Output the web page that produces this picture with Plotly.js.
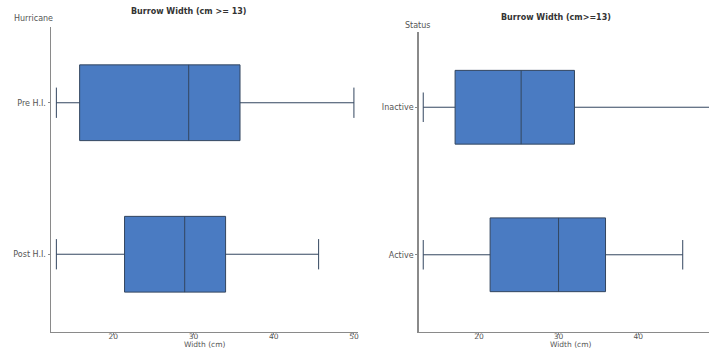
<!DOCTYPE html>
<html><head><meta charset="utf-8">
<script src="https://cdn.plot.ly/plotly-3.0.1.min.js"></script>
<style>html,body{margin:0;padding:0;background:#fff}</style>
</head><body><div id="chart" style="width:709px;height:350px"></div>
<script>
// Left panel: Hurricane
const hurricaneCats = ['Pre H.I.', 'Post H.I.'];
const hurMin = [12.9, 12.9];
const hurQ1 = [15.8, 21.4];
const hurMedian = [29.4, 28.9];
const hurQ3 = [35.8, 34.0];
const hurMax = [50.0, 45.6];
// Right panel: Status
const statusCats = ['Inactive', 'Active'];
const stMin = [13.0, 13.0];
const stQ1 = [17.0, 21.4];
const stMedian = [25.3, 30.0];
const stQ3 = [32.0, 35.9];
const stMax = [52.0, 45.6];
const leftTicks = [20, 30, 40, 50];
const rightTicks = [20, 30, 40];

const fill = '#4a7bc2';
const lineCol = '#33465f';
const font = {family: 'DejaVu Sans, sans-serif', size: 8, color: '#555'};
const smallFont = {family: 'DejaVu Sans, sans-serif', size: 7.5, color: '#555'};

const traces = [
  {type: 'box', orientation: 'h', y: hurricaneCats, q1: hurQ1, median: hurMedian, q3: hurQ3,
   lowerfence: hurMin, upperfence: hurMax, fillcolor: fill, line: {color: lineCol, width: 1},
   whiskerwidth: 0.4, xaxis: 'x', yaxis: 'y', hoverinfo: 'skip', showlegend: false},
  {type: 'box', orientation: 'h', y: statusCats, q1: stQ1, median: stMedian, q3: stQ3,
   lowerfence: stMin, upperfence: stMax, fillcolor: fill, line: {color: lineCol, width: 1},
   whiskerwidth: 0.4, xaxis: 'x2', yaxis: 'y2', hoverinfo: 'skip', showlegend: false}
];

const axCommon = {showgrid: false, zeroline: false, showline: true, linecolor: '#8a8a8a', linewidth: 1.5,
  ticks: 'outside', ticklen: 2, tickcolor: '#8a8a8a', tickfont: font, fixedrange: true};

const layout = {
  width: 709, height: 350,
  margin: {l: 0, r: 0, t: 0, b: 0},
  paper_bgcolor: '#fff', plot_bgcolor: '#fff',
  boxgap: 0.5, boxgroupgap: 0,
  font: font,
  xaxis: Object.assign({}, axCommon, {domain: [51/709, 358/709], range: [12.23, 50.51], anchor: 'y',
    tickvals: leftTicks, ticklabelstandoff: -5, tickfont: smallFont}),
  yaxis: Object.assign({}, axCommon, {domain: [18.5/350, 323/350], anchor: 'x', type: 'category',
    categoryorder: 'array', categoryarray: hurricaneCats.slice().reverse(), range: [-0.51, 1.5]}),
  xaxis2: Object.assign({}, axCommon, {domain: [418.7/709, 1], range: [12.43, 48.9], anchor: 'y2',
    tickvals: rightTicks, ticklabelstandoff: -5, tickfont: smallFont}),
  yaxis2: Object.assign({}, axCommon, {domain: [18.5/350, 318/350], anchor: 'x2', type: 'category',
    categoryorder: 'array', categoryarray: statusCats.slice().reverse(), range: [-0.52, 1.51]}),
  annotations: [
    {text: '<b>Burrow Width (cm >= 13)</b>', xref: 'paper', yref: 'paper', x: 189/709, y: 1 - 11/350,
     showarrow: false, xanchor: 'center', yanchor: 'middle', font: {family: 'DejaVu Sans, sans-serif', size: 8, color: '#333'}},
    {text: '<b>Burrow Width (cm>=13)</b>', xref: 'paper', yref: 'paper', x: 556/709, y: 1 - 17.5/350,
     showarrow: false, xanchor: 'center', yanchor: 'middle', font: {family: 'DejaVu Sans, sans-serif', size: 8, color: '#333'}},
    {text: 'Hurricane', xref: 'paper', yref: 'paper', x: 33/709, y: 1 - 19/350,
     showarrow: false, xanchor: 'center', yanchor: 'middle', font: font},
    {text: 'Status', xref: 'paper', yref: 'paper', x: 418/709, y: 1 - 25.5/350,
     showarrow: false, xanchor: 'center', yanchor: 'middle', font: font},
    {text: 'Width (cm)', xref: 'paper', yref: 'paper', x: 205/709, y: 0, yshift: 0,
     showarrow: false, xanchor: 'center', yanchor: 'bottom', borderpad: 0, font: smallFont},
    {text: 'Width (cm)', xref: 'paper', yref: 'paper', x: 571/709, y: 0, yshift: 0,
     showarrow: false, xanchor: 'center', yanchor: 'bottom', borderpad: 0, font: smallFont}
  ]
};

Plotly.newPlot('chart', traces, layout, {staticPlot: true, displayModeBar: false});
</script>
</body></html>
